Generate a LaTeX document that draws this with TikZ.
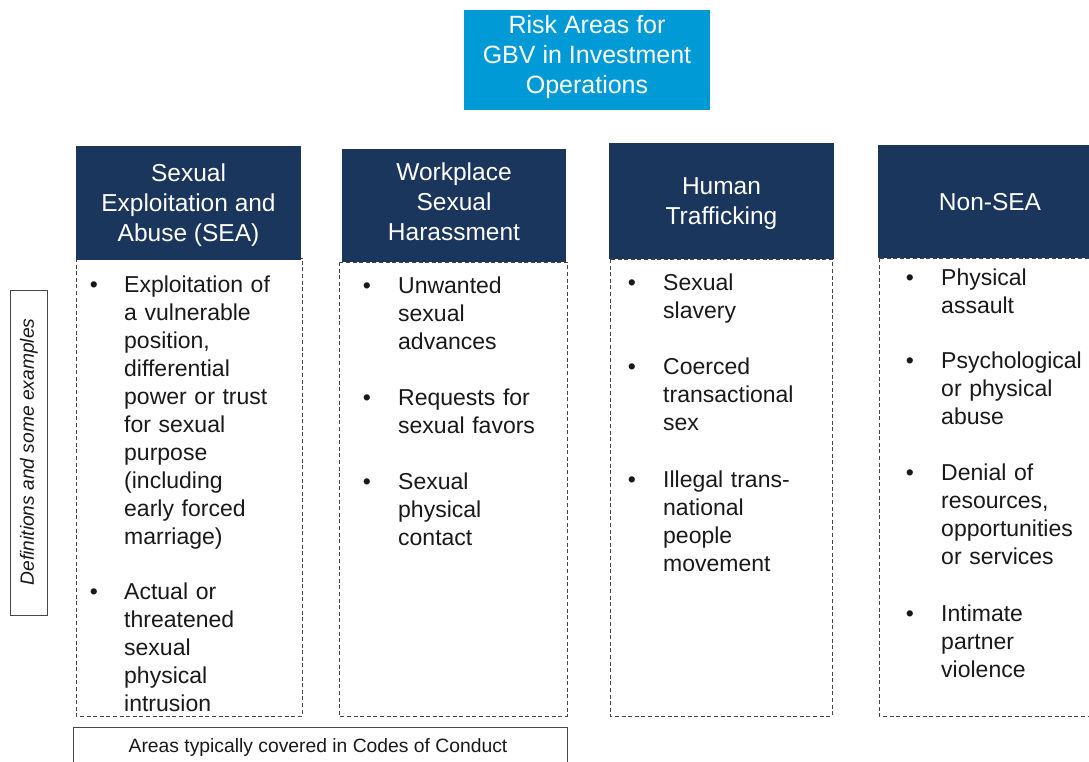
\documentclass[tikz,border=0pt]{standalone}
\usepackage{fontspec}
\setmainfont{Liberation Sans}
\definecolor{navy}{RGB}{27,54,93}
\definecolor{skyblue}{RGB}{0,154,214}
\definecolor{ink}{RGB}{25,25,25}
\definecolor{edge}{RGB}{70,70,70}
\begin{document}
\begin{tikzpicture}[x=1pt,y=-1pt,
  headbox/.style={fill=navy,draw=none,inner sep=0},
  headtext/.style={text=white,align=center,inner sep=0,
    font={\fontsize{24.5}{30}\selectfont}},
  bodybox/.style={draw=edge,line width=0.9pt,dash pattern=on 4pt off 2.6pt},
  bodytext/.style={anchor=base west,inner sep=0,text width=170pt,align=left,text=ink,
    font={\fontsize{23}{28}\selectfont}},
  bulletmark/.style={anchor=base,inner sep=0,text=ink,font={\fontsize{23}{28}\selectfont}},
  framebox/.style={draw=edge,line width=1pt}
]
\useasboundingbox (0,0) rectangle (1089,761);

% title
\node[fill=skyblue,minimum width=246pt,minimum height=100pt,inner sep=0] (title) at (587,60) {};
\node[text=white,align=center,inner sep=0,font={\fontsize{25}{30}\selectfont}] (titletext) at (587,57.5)
  {Risk Areas for\\GBV in Investment\\Operations};

% dashed bodies
\draw[bodybox] (76,258) rectangle (302,716) coordinate (b1);
\draw[bodybox] (339,262) rectangle (567,716) coordinate (b2);
\draw[bodybox] (610,259) rectangle (832,716) coordinate (b3);
\draw[bodybox] (879,258) rectangle (1100,716) coordinate (b4);

% headers
\node[headbox,minimum width=225pt,minimum height=114pt] (h1) at (188.5,203) {};
\node[headtext] (h1t) at (188.5,205.5) {Sexual\\Exploitation and\\Abuse (SEA)};
\node[headbox,minimum width=224pt,minimum height=113pt] (h2) at (454,205.5) {};
\node[headtext] (h2t) at (454,201.5) {Workplace\\Sexual\\Harassment};
\node[headbox,minimum width=225pt,minimum height=116pt] (h3) at (721.5,201) {};
\node[headtext] (h3t) at (721.5,204) {Human\\Trafficking};
\node[headbox,minimum width=222pt,minimum height=113pt,anchor=west] (h4) at (878,201.5) {};
\node[headtext] (h4t) at (990,202.5) {Non-SEA};

% column 1
\node[bulletmark] (c1b1) at (94,292) {•};
\node[bodytext] (c1i1) at (124,292) {Exploitation of\\a vulnerable\\position,\\differential\\power or trust\\for sexual\\purpose\\(including\\early forced\\marriage)};
\node[bulletmark] (c1b2) at (94,599) {•};
\node[bodytext] (c1i2) at (124,599) {Actual or\\threatened\\sexual\\physical\\intrusion};

% column 2
\node[bulletmark] (c2b1) at (367,293) {•};
\node[bodytext] (c2i1) at (398,293) {Unwanted\\sexual\\advances};
\node[bulletmark] (c2b2) at (367,405) {•};
\node[bodytext] (c2i2) at (398,405) {Requests for\\sexual favors};
\node[bulletmark] (c2b3) at (367,489) {•};
\node[bodytext] (c2i3) at (398,489) {Sexual\\physical\\contact};

% column 3
\node[bulletmark] (c3b1) at (632,290) {•};
\node[bodytext] (c3i1) at (663,290) {Sexual\\slavery};
\node[bulletmark] (c3b2) at (632,374) {•};
\node[bodytext] (c3i2) at (663,374) {Coerced\\transactional\\sex};
\node[bulletmark] (c3b3) at (632,487) {•};
\node[bodytext] (c3i3) at (663,487) {Illegal trans-\\national\\people\\movement};

% column 4
\node[bulletmark] (c4b1) at (910,285) {•};
\node[bodytext] (c4i1) at (941,285) {Physical\\assault};
\node[bulletmark] (c4b2) at (910,368) {•};
\node[bodytext] (c4i2) at (941,368) {Psychological\\or physical\\abuse};
\node[bulletmark] (c4b3) at (910,480) {•};
\node[bodytext] (c4i3) at (941,480) {Denial of\\resources,\\opportunities\\or services};
\node[bulletmark] (c4b4) at (910,621) {•};
\node[bodytext] (c4i4) at (941,621) {Intimate\\partner\\violence};

% side label
\draw[framebox] (10,290) rectangle (47,615);
\node[rotate=90,inner sep=0,text=ink,font={\fontsize{19.2}{22}\selectfont\itshape}] (side) at (29,452) {Definitions and some examples};

% footer
\draw[framebox] (73,727) rectangle (567,775);
\node[inner sep=0,text=ink,font={\fontsize{19.3}{22}\selectfont}] (foot) at (318,747.5) {Areas typically covered in Codes of Conduct};
\end{tikzpicture}
\end{document}
